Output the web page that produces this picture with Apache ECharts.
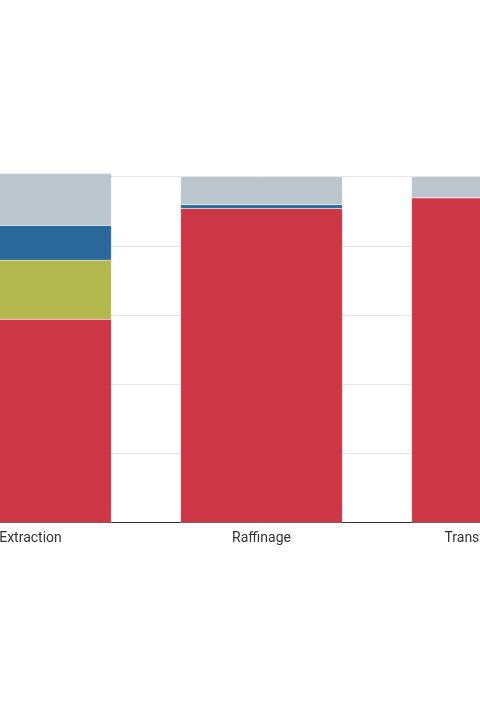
<!DOCTYPE html>
<html lang="fr">
<head>
    <meta charset="UTF-8">
    <title>Chaine</title>
    <script src="https://cdn.jsdelivr.net/npm/echarts@6/dist/echarts.min.js"></script>
    <style>
        html, body { margin: 0; padding: 0; width: 480px; height: 720px; overflow: hidden; background: #fff; }
        #main { position: absolute; left: -185px; top: 0; width: 900px; height: 720px; }
    </style>
</head>
<body>
    <div id="main"></div>
    <script>
        var categories = ['Extraction', 'Raffinage', 'Transformation'];
        var rouge = [58.8, 90.8, 93.9];
        var olive = [17.1, 0, 0];
        var bleu = [10.0, 1.1, 0];
        var gris = [15.0, 8.1, 6.1];

        var mychart = echarts.init(document.getElementById('main'));

        function serie(name, data, color) {
            return {
                name: name,
                type: 'bar',
                stack: 'total',
                barCategoryGap: '30%',
                clip: false,
                data: data,
                itemStyle: { color: color, borderColor: 'rgba(255,255,255,0.4)', borderWidth: 0.4 }
            };
        }

        var option = {
            animation: false,
            textStyle: { fontFamily: 'Roboto' },
            grid: { left: 100, right: 107, top: 176.7, bottom: 720 - 522.7 },
            xAxis: {
                type: 'category',
                data: categories,
                axisLine: { lineStyle: { color: '#333', width: 1 } },
                axisTick: { show: false },
                axisLabel: { color: '#333', fontSize: 14, margin: 9, fontFamily: 'Roboto' }
            },
            yAxis: {
                type: 'value',
                min: 0,
                max: 100,
                interval: 20,
                axisLabel: { show: false },
                axisLine: { show: false },
                splitLine: { lineStyle: { color: '#e6e6e6' } }
            },
            series: [
                serie('Rouge', rouge, '#cb3744'),
                serie('Olive', olive, '#b4b94f'),
                serie('Bleu', bleu, '#2b699d'),
                serie('Gris', gris, '#bbc5cd')
            ]
        };
        mychart.setOption(option);
    </script>
</body>
</html>
